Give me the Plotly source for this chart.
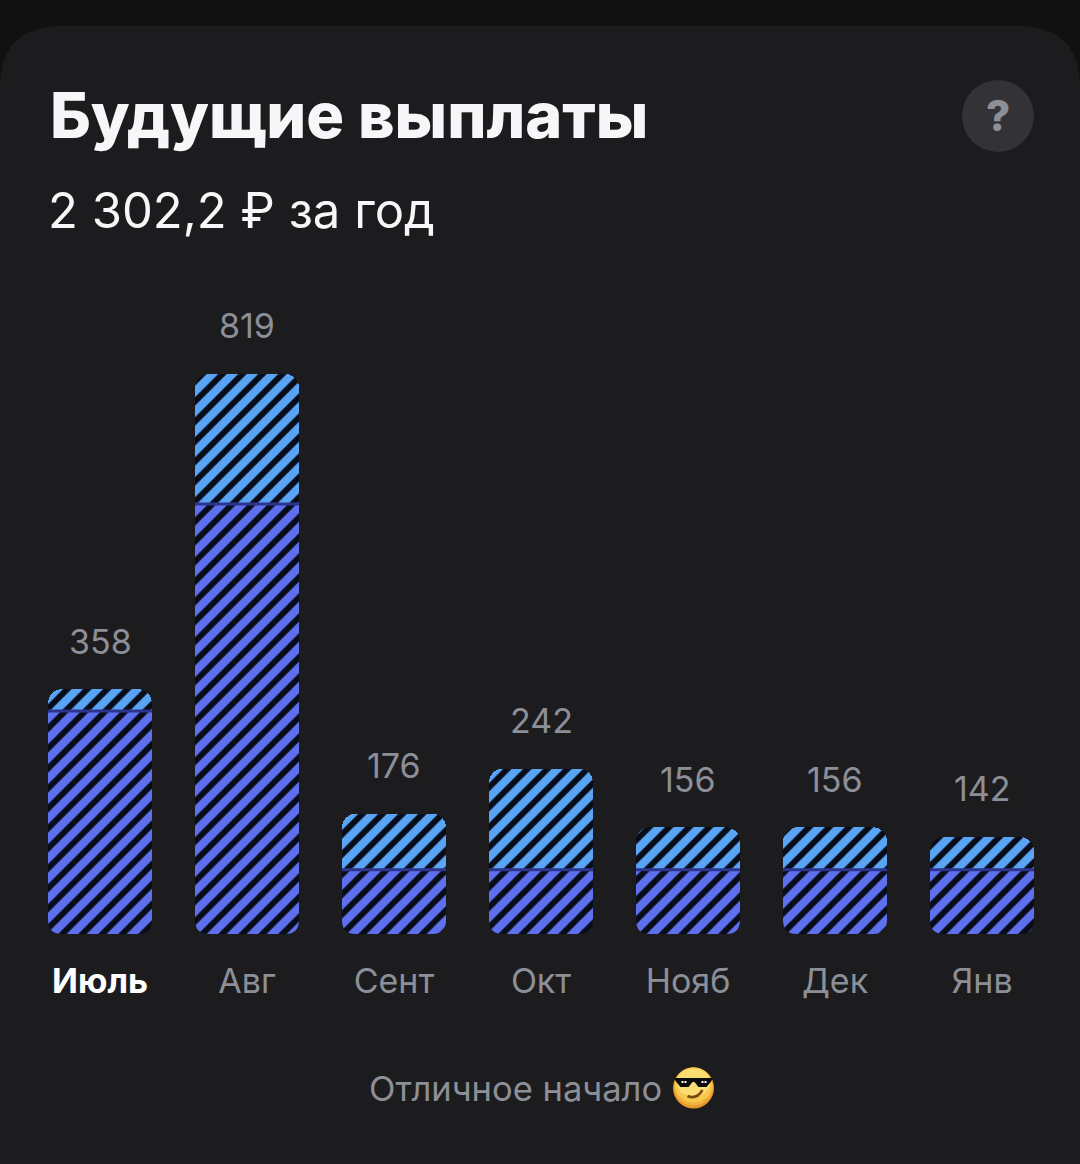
import plotly.graph_objects as go

months = ["Июль", "Авг", "Сент", "Окт", "Нояб", "Дек", "Янв"]
totals = [358, 819, 176, 242, 156, 156, 142]
lower = [326, 629, 94, 94, 94, 94, 94]
upper = [32, 190, 82, 148, 62, 62, 48]
title_text = "Будущие выплаты"
subtitle_text = "2 302,2 ₽ за год"
footer_text = "Отличное начало"

W, H = 1080, 1164
BG, CARD = "#111112", "#1c1c1e"
GREY = "#8c8f97"
FONT = "Inter"
PERIOD, BAR, LEFT = 147, 104, 26.5
BASE_Y, TOP_Y = 934, 300
YMAX = (BASE_Y - TOP_Y) / (560 / 819)

px = lambda x: x / W
py = lambda y: 1 - y / H

fig = go.Figure()
fig.add_bar(x=months, y=lower, marker=dict(color="#080c18", line_width=0,
    pattern=dict(shape="/", size=14.14, solidity=0.58, fgcolor="#5f70ee", bgcolor="#080c18", fillmode="replace")))
fig.add_bar(x=months, y=upper, marker=dict(color="#080c18", line_width=0,
    pattern=dict(shape="/", size=14.14, solidity=0.58, fgcolor="#5aa4f5", bgcolor="#080c18", fillmode="replace")))

shapes = []
r = 62
shapes.append(dict(type="path", xref="paper", yref="paper", layer="below", line_width=0, fillcolor=CARD,
    path=f"M {px(0)},{py(H)} L {px(0)},{py(26+r)} Q {px(0)},{py(26)} {px(r)},{py(26)} "
         f"L {px(W-r)},{py(26)} Q {px(W)},{py(26)} {px(W)},{py(26+r)} L {px(W)},{py(H)} Z"))
shapes.append(dict(type="circle", xref="paper", yref="paper", layer="below", line_width=0, fillcolor="#333336",
    x0=px(962), x1=px(1034), y0=py(152), y1=py(80)))
half = BAR / PERIOD / 2
c = 14
for i, low in enumerate(lower):
    shapes.append(dict(type="line", xref="x", yref="y", x0=i-half, x1=i+half, y0=low, y1=low,
                       line=dict(color="#2c3490", width=3)))
    x0 = LEFT + PERIOD * i + (PERIOD - BAR) / 2
    x1 = x0 + BAR
    shapes.append(dict(type="path", xref="paper", yref="paper", line_width=0, fillcolor=CARD,
        path=f"M {px(x0-1)},{py(BASE_Y+1)} L {px(x0-1)},{py(BASE_Y-c)} L {px(x0)},{py(BASE_Y-c)} Q {px(x0)},{py(BASE_Y)} {px(x0+c)},{py(BASE_Y)} L {px(x0+c)},{py(BASE_Y+1)} Z"))
    shapes.append(dict(type="path", xref="paper", yref="paper", line_width=0, fillcolor=CARD,
        path=f"M {px(x1+1)},{py(BASE_Y+1)} L {px(x1+1)},{py(BASE_Y-c)} L {px(x1)},{py(BASE_Y-c)} Q {px(x1)},{py(BASE_Y)} {px(x1-c)},{py(BASE_Y)} L {px(x1-c)},{py(BASE_Y+1)} Z"))
# sunglasses emoji
ex, ey, er = 693.5, 1088, 20.5
for inset, top, col in [(0, 0, "#e79a2c"), (1, 0, "#f2b33d"), (2, 0, "#f8c94f"), (4, 1, "#fbdc72")]:
    shapes.append(dict(type="circle", xref="paper", yref="paper", line_width=0, fillcolor=col,
        x0=px(ex-er+inset), x1=px(ex+er-inset), y0=py(ey+er-inset*3), y1=py(ey-er+top)))
shapes.append(dict(type="path", xref="paper", yref="paper", line_width=0, fillcolor="#0a0a0a",
    path=f"M {px(ex-19)},{py(ey-10)} L {px(ex+19)},{py(ey-10)} L {px(ex+18)},{py(ey-7)} L {px(ex+13)},{py(ey-1)} L {px(ex+5)},{py(ey-1)} "
         f"L {px(ex+1)},{py(ey-6)} L {px(ex-1)},{py(ey-6)} L {px(ex-5)},{py(ey-1)} L {px(ex-13)},{py(ey-1)} L {px(ex-18)},{py(ey-7)} Z"))
for dx in (-12, -9, 8, 11):
    shapes.append(dict(type="rect", xref="paper", yref="paper", line_width=0, fillcolor="#ffffff",
        x0=px(ex+dx), x1=px(ex+dx+2), y0=py(ey-5), y1=py(ey-7)))
shapes.append(dict(type="path", xref="paper", yref="paper", line=dict(color="#7a4a12", width=2.5),
    path=f"M {px(ex-6)},{py(ey+8)} Q {px(ex+3)},{py(ey+12)} {px(ex+9)},{py(ey+2)}"))

def note(text, x, y, size, color=GREY, anchor="left", weight="normal"):
    return dict(text=text, x=px(x), y=py(y), xref="paper", yref="paper", xanchor=anchor, yanchor="middle",
                showarrow=False, font=dict(family=FONT, size=size, color=color, weight=weight))

annotations = [
    note(title_text, 48, 115, 63, "#f7f7f9", weight=800),
    note(subtitle_text, 45.5, 210, 49, "#f7f7f9"),
    note("?", 998, 116, 42, GREY, "center", 800),
    note(footer_text, 515.5, 1088, 34.5, GREY, "center"),
]
for m, t in zip(months, totals):
    annotations.append(dict(text=str(t), x=m, y=t, xref="x", yref="y", yshift=48, yanchor="middle", showarrow=False,
                            font=dict(family=FONT, size=34, color=GREY)))

ticks = [f'<b><span style="color:#ffffff">{m}</span></b>' if i == 0 else m for i, m in enumerate(months)]

fig.update_layout(
    width=W, height=H, margin=dict(l=0, r=0, t=0, b=0), showlegend=False,
    paper_bgcolor=BG, plot_bgcolor="rgba(0,0,0,0)", barmode="stack",
    bargap=1 - BAR / PERIOD, barcornerradius=14,
    font=dict(family=FONT), shapes=shapes, annotations=annotations,
    xaxis=dict(domain=[px(LEFT), px(LEFT + PERIOD * 7)], tickmode="array", tickvals=months, ticktext=ticks,
               tickfont=dict(family=FONT, size=34, color=GREY), ticks="outside", ticklen=17,
               tickcolor="rgba(0,0,0,0)", showgrid=False, zeroline=False, showline=False),
    yaxis=dict(domain=[py(BASE_Y), py(TOP_Y)], range=[0, YMAX], visible=False),
)
fig.write_html("out.html", config=dict(displayModeBar=False),
               post_script="document.body.style.margin='0';document.documentElement.style.overflow='hidden';")
